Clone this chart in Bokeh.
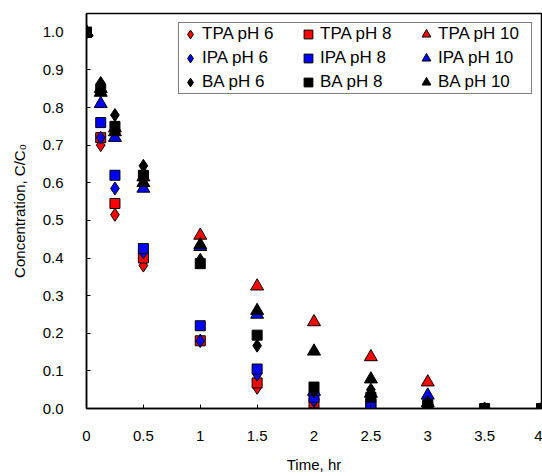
from bokeh.plotting import figure
from bokeh.models import Legend, LegendItem, FixedTicker, Range1d
from bokeh.embed import file_html
from bokeh.resources import INLINE

# ---- data ----
times = [0, 0.125, 0.25, 0.5, 1.0, 1.5, 2.0, 2.5, 3.0]
times_ext = [0, 0.125, 0.25, 0.5, 1.0, 1.5, 2.0, 2.5, 3.0, 3.5, 4.0]

tpa_ph6 = [1.0, 0.70, 0.515, 0.38, 0.18, 0.055, 0.005, 0.0, 0.0]
tpa_ph8 = [1.0, 0.72, 0.545, 0.40, 0.18, 0.068, 0.015, 0.005, 0.0]
tpa_ph10 = [1.0, 0.85, 0.745, 0.615, 0.46, 0.325, 0.23, 0.137, 0.07]
ipa_ph6 = [1.0, 0.72, 0.585, 0.415, 0.18, 0.09, 0.02, 0.01, 0.0]
ipa_ph8 = [1.0, 0.76, 0.62, 0.425, 0.22, 0.105, 0.03, 0.012, 0.005]
ipa_ph10 = [1.0, 0.81, 0.72, 0.585, 0.43, 0.25, 0.045, 0.04, 0.035]
ba_ph6 = [1.0, 0.865, 0.78, 0.645, 0.395, 0.167, 0.045, 0.05, 0.01, 0.0, 0.0]
ba_ph8 = [1.0, 0.85, 0.75, 0.62, 0.385, 0.195, 0.057, 0.03, 0.01, 0.0, 0.0]
ba_ph10 = [1.0, 0.84, 0.735, 0.60, 0.435, 0.26, 0.152, 0.078, 0.015]

x_ticks = [0, 0.5, 1, 1.5, 2, 2.5, 3, 3.5, 4]
x_tick_labels = ["0", "0.5", "1", "1.5", "2", "2.5", "3", "3.5", "4"]
y_ticks = [0.0, 0.1, 0.2, 0.3, 0.4, 0.5, 0.6, 0.7, 0.8, 0.9, 1.0]
y_tick_labels = ["0.0", "0.1", "0.2", "0.3", "0.4", "0.5", "0.6", "0.7", "0.8", "0.9", "1.0"]

# legend order (row by row)
series = [
    ("TPA pH 6", times, tpa_ph6, "diamond", "#FF0000"),
    ("TPA pH 8", times, tpa_ph8, "square", "#FF0000"),
    ("TPA pH 10", times, tpa_ph10, "triangle", "#FF0000"),
    ("IPA pH 6", times, ipa_ph6, "diamond", "#0000FF"),
    ("IPA pH 8", times, ipa_ph8, "square", "#0000FF"),
    ("IPA pH 10", times, ipa_ph10, "triangle", "#0000FF"),
    ("BA pH 6", times_ext, ba_ph6, "diamond", "#000000"),
    ("BA pH 8", times_ext, ba_ph8, "square", "#000000"),
    ("BA pH 10", times, ba_ph10, "triangle", "#000000"),
]
draw_order = [0, 1, 2, 3, 4, 5, 6, 8, 7]

FONT = "Liberation Sans"

p = figure(width=542, height=476, output_backend="svg", toolbar_location=None,
           x_range=Range1d(0, 4), y_range=Range1d(0, 1.05),
           min_border_left=86, min_border_right=1, min_border_top=13, min_border_bottom=68)
p.background_fill_color = "white"
p.border_fill_color = "white"
p.xgrid.visible = False
p.ygrid.visible = False
p.outline_line_color = "black"
p.outline_line_width = 1.5

sizes = {"diamond": 13, "square": 10, "triangle": 13}
renderers = {}
for i in draw_order:
    name, xs, ys, kind, color = series[i]
    renderers[i] = p.scatter(xs, ys, marker=kind, size=sizes[kind],
                             fill_color=color, line_color="black", line_width=1)

items = [LegendItem(label=series[i][0], renderers=[renderers[i]]) for i in range(len(series))]

legend = Legend(items=items, orientation="horizontal", ncols=3, location="top_right",
                margin=9, padding=0, spacing=2, glyph_width=22, glyph_height=22,
                label_height=22, label_width=93, label_standoff=1,
                label_text_font=FONT, label_text_font_size="17px", label_text_color="black",
                border_line_color="black", border_line_width=1.5,
                background_fill_color="white", background_fill_alpha=1.0)
p.add_layout(legend, "center")

p.xaxis.ticker = FixedTicker(ticks=x_ticks)
p.xaxis.major_label_overrides = {t: l for t, l in zip(x_ticks, x_tick_labels)}
p.yaxis.ticker = FixedTicker(ticks=y_ticks)
p.yaxis.major_label_overrides = {t: l for t, l in zip(y_ticks, y_tick_labels)}

for ax in (p.xaxis, p.yaxis):
    ax.axis_line_color = "black"
    ax.axis_line_width = 1.5
    ax.major_tick_line_color = "black"
    ax.major_tick_line_width = 1
    ax.major_tick_in = 4
    ax.major_tick_out = 0
    ax.minor_tick_line_color = None
    ax.major_label_text_font = FONT
    ax.major_label_text_font_size = "15px"
    ax.major_label_text_color = "black"
    ax.axis_label_text_font = FONT
    ax.axis_label_text_font_size = "15px"
    ax.axis_label_text_font_style = "normal"
    ax.axis_label_text_color = "black"

p.xaxis.axis_label = "Time, hr"
p.yaxis.axis_label = "Concentration, C/C\u2080"
p.xaxis.major_label_standoff = 22
p.yaxis.major_label_standoff = 23
p.xaxis.axis_label_standoff = 12
p.yaxis.axis_label_standoff = 12

open("out.html", "w").write(file_html(p, INLINE))
